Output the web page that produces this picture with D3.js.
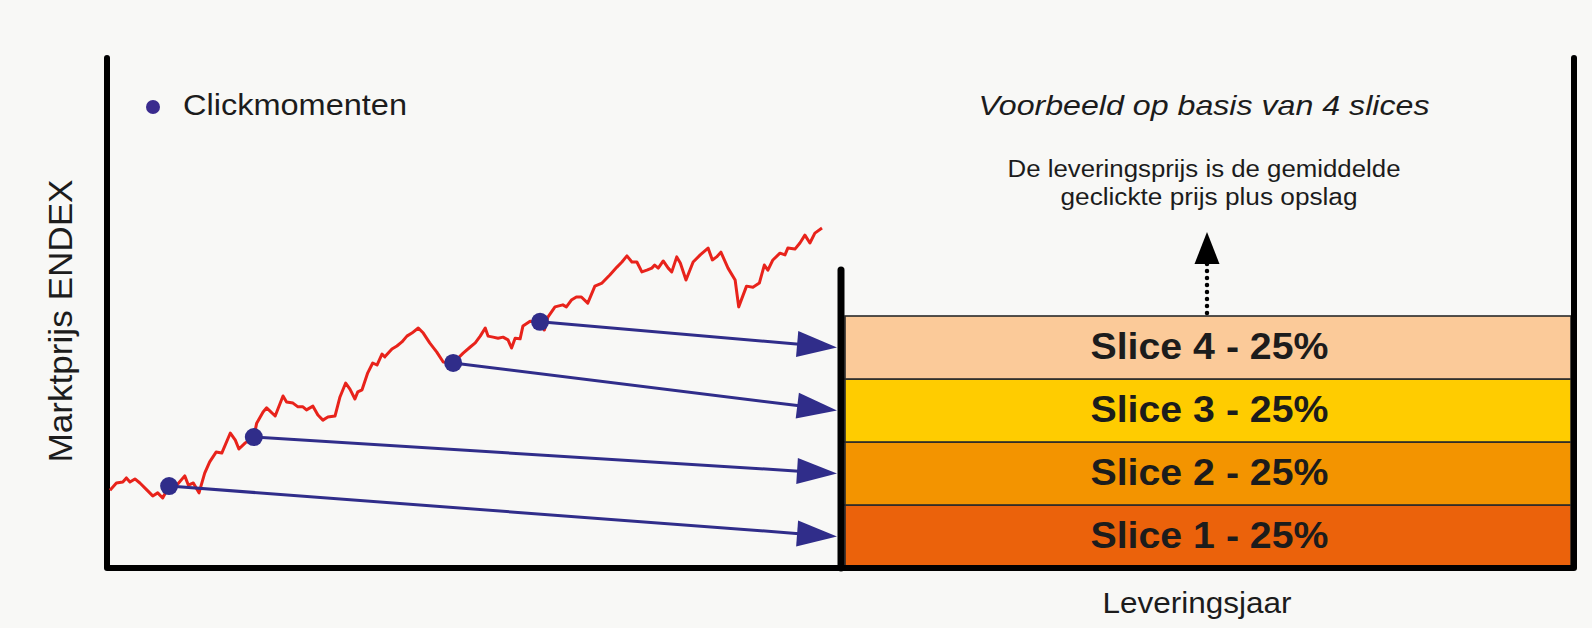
<!DOCTYPE html>
<html>
<head>
<meta charset="utf-8">
<script src="https://cdn.jsdelivr.net/npm/d3@7"></script>
<style>
  body { margin: 0; background: #f8f8f6; }
  svg { display: block; font-family: "Liberation Sans", Arial, sans-serif; }
</style>
</head>
<body>
<svg id="chart"></svg>
<script>
// marktprijs over de tijd (tijd 0-100, prijs-index 0-100)
const tijd = [
  0, 0.9, 1.8, 2.3, 2.8, 3.5, 4.2, 5.2, 6.0, 6.7, 7.4, 8.3, 9.4, 10.5, 11.0, 11.7,
  12.5, 13.3, 14.0, 14.9, 15.7, 16.9, 17.6, 18.1, 19.0, 20.2, 20.6, 21.5, 22.0, 23.2,
  24.3, 24.8, 25.7, 26.4, 27.1, 27.6, 28.5, 29.2, 29.9, 30.6, 31.6, 32.3, 33.1, 33.7,
  34.4, 34.8, 35.4, 36.2, 36.9, 37.5, 38.2, 38.6, 39.6, 40.3, 41.0, 41.7, 42.4, 43.3,
  44.0, 44.9, 45.9, 46.8, 48.2, 49.6, 50.6, 51.3, 52.0, 52.7, 53.1, 53.8, 54.5, 55.2,
  55.9, 56.4, 56.9, 57.6, 58.0, 59.0, 60.4, 61.0, 61.5, 62.5, 63.6, 64.1, 64.8, 65.5,
  66.2, 67.1, 68.1, 69.1, 70.2, 71.2, 71.9, 72.6, 73.3, 74.0, 74.7, 75.4, 76.1, 76.5,
  77.0, 77.7, 78.4, 78.9, 79.6, 80.1, 80.9, 81.9, 82.9, 84.0, 84.6, 85.2, 85.8, 86.8,
  87.8, 88.3, 89.4, 90.3, 91.2, 91.9, 92.4, 93.1, 94.1, 94.8, 95.2, 96.2, 96.9, 97.6,
  98.3, 99.0, 100,
];
const prijs = [
  22.9, 25.0, 25.3, 26.5, 25.3, 26.2, 25.0, 22.9, 21.2, 22.1, 20.6, 24.1, 24.4, 27.1, 24.4, 25.0,
  22.1, 27.9, 31.2, 34.1, 33.8, 39.7, 37.6, 35.0, 36.8, 38.5, 42.6, 45.9, 47.1, 44.7,
  50.6, 48.8, 48.5, 47.4, 47.4, 46.5, 47.6, 45.0, 43.5, 44.4, 44.7, 50.3, 54.4, 52.6,
  49.7, 51.8, 52.4, 57.4, 60.3, 59.7, 62.9, 62.1, 64.4, 65.3, 66.5, 68.2, 69.1, 70.6,
  69.1, 66.2, 63.5, 60.6, 60.3, 63.2, 65.0, 66.2, 68.2, 70.6, 68.2, 67.9, 67.6, 67.9,
  67.1, 64.7, 67.6, 67.4, 71.2, 72.6, 72.4, 70.0, 73.8, 76.8, 77.4, 76.8, 78.8, 79.7,
  79.7, 77.9, 82.9, 83.8, 86.2, 88.5, 90.0, 91.8, 90.0, 90.0, 87.1, 87.6, 88.2, 89.1,
  88.2, 90.3, 88.2, 87.1, 91.5, 89.7, 84.7, 90.0, 92.1, 94.1, 90.6, 91.5, 92.9, 88.2,
  84.7, 76.8, 82.9, 82.6, 83.8, 89.1, 87.6, 90.6, 92.6, 92.1, 94.1, 93.8, 95.6, 97.9,
  95.6, 98.5, 100,
];
// clickmomenten
const clickTijd = [8.3, 20.2, 48.2, 60.4];
const clickPrijs = [24.1, 38.5, 60.3, 72.4];
// slices
const slices = ["Slice 1", "Slice 2", "Slice 3", "Slice 4"];
const sliceAandeel = [25, 25, 25, 25];
const sliceColors = ["#eb620b", "#f39400", "#ffcc00", "#fbca99"];

const config = {
  width: 1592,
  height: 628,
  axisLeft: 107,
  axisRight: 1574,
  axisTop: 58,
  axisBottom: 568,
  splitX: 841,
  splitTop: 270,
  slicesTop: 316,
};
const blue = "#302d8a";
const ink = "#1c1c1c";

const svg = d3.select("#chart")
  .attr("width", config.width)
  .attr("height", config.height);

const xScale = d3.scaleLinear().domain([0, 100]).range([110, 822]);
const yScale = d3.scaleLinear().domain([0, 100]).range([568, 228]);
const sliceScale = d3
  .scaleBand()
  .domain(slices.slice().reverse())
  .range([config.slicesTop, config.axisBottom]);

const priceData = tijd.map((t, i) => ({ t, p: prijs[i] }));
const clicks = clickTijd.map((t, i) => ({ t, p: clickPrijs[i], slice: slices[i] }));
const sliceData = slices.map((s, i) => ({ name: s, share: sliceAandeel[i], color: sliceColors[i] }));

// slices
const sliceG = svg.append("g");
sliceG
  .selectAll("rect")
  .data(sliceData)
  .join("rect")
  .attr("x", config.splitX + 4)
  .attr("y", (d) => sliceScale(d.name))
  .attr("width", config.axisRight - config.splitX - 7)
  .attr("height", sliceScale.bandwidth())
  .attr("fill", (d) => d.color)
  .attr("stroke", "#2a2a2a")
  .attr("stroke-width", 1.6);
sliceG
  .selectAll("text")
  .data(sliceData)
  .join("text")
  .attr("x", (config.splitX + config.axisRight) / 2 + 2)
  .attr("y", (d) => sliceScale(d.name) + sliceScale.bandwidth() / 2 + 11)
  .attr("text-anchor", "middle")
  .attr("font-size", 36)
  .attr("font-weight", "bold")
  .attr("fill", ink)
  .attr("textLength", 238)
  .attr("lengthAdjust", "spacingAndGlyphs")
  .text((d) => `${d.name} - ${d.share}%`);

// frame
const frame = svg.append("g").attr("stroke", "#000").attr("stroke-width", 6).attr("stroke-linecap", "round");
frame.append("line")
  .attr("x1", config.axisLeft).attr("x2", config.axisLeft)
  .attr("y1", config.axisTop).attr("y2", config.axisBottom);
frame.append("line")
  .attr("x1", config.axisRight).attr("x2", config.axisRight)
  .attr("y1", config.axisTop).attr("y2", config.axisBottom);
frame.append("line")
  .attr("x1", config.splitX).attr("x2", config.splitX)
  .attr("y1", config.splitTop).attr("y2", config.axisBottom)
  .attr("stroke-width", 7);
frame.append("line")
  .attr("x1", config.axisLeft).attr("x2", config.axisRight)
  .attr("y1", config.axisBottom).attr("y2", config.axisBottom)
  .attr("stroke-linecap", "butt");

// price line
const line = d3
  .line()
  .x((d) => xScale(d.t))
  .y((d) => yScale(d.p));
svg.append("path")
  .datum(priceData)
  .attr("fill", "none")
  .attr("stroke", "#e8231b")
  .attr("stroke-width", 3)
  .attr("stroke-linejoin", "round")
  .attr("d", line);

// arrows from click moments to slices
const tipX = config.splitX - 4;
const headLen = 40;
const headHalf = 13;
const arrows = svg.append("g");
clicks.forEach((d) => {
  const x0 = xScale(d.t);
  const y0 = yScale(d.p);
  const y1 = sliceScale(d.slice) + sliceScale.bandwidth() / 2;
  const ang = Math.atan2(y1 - y0, tipX - x0);
  const bx = tipX - headLen * Math.cos(ang);
  const by = y1 - headLen * Math.sin(ang);
  arrows.append("line")
    .attr("x1", x0).attr("y1", y0)
    .attr("x2", bx + 2 * Math.cos(ang)).attr("y2", by + 2 * Math.sin(ang))
    .attr("stroke", blue)
    .attr("stroke-width", 3);
  const px = -Math.sin(ang) * headHalf;
  const py = Math.cos(ang) * headHalf;
  arrows.append("path")
    .attr("d", `M${tipX},${y1}L${bx + px},${by + py}L${bx - px},${by - py}Z`)
    .attr("fill", blue);
});

svg.append("g")
  .selectAll("circle")
  .data(clicks)
  .join("circle")
  .attr("cx", (d) => xScale(d.t))
  .attr("cy", (d) => yScale(d.p))
  .attr("r", 9)
  .attr("fill", blue);

// legend
svg.append("circle").attr("cx", 153).attr("cy", 107).attr("r", 7).attr("fill", "#3a2b8e");
svg.append("text")
  .attr("x", 183).attr("y", 115)
  .attr("font-size", 29)
  .attr("fill", ink)
  .attr("textLength", 224)
  .attr("lengthAdjust", "spacingAndGlyphs")
  .text("Clickmomenten");

// annotation
const centerX = 1204;
svg.append("text")
  .attr("x", centerX).attr("y", 115)
  .attr("text-anchor", "middle")
  .attr("font-size", 28)
  .attr("font-style", "italic")
  .attr("fill", ink)
  .attr("textLength", 451)
  .attr("lengthAdjust", "spacingAndGlyphs")
  .text("Voorbeeld op basis van 4 slices");
svg.append("text")
  .attr("x", centerX).attr("y", 177)
  .attr("text-anchor", "middle")
  .attr("font-size", 23)
  .attr("fill", ink)
  .attr("textLength", 393)
  .attr("lengthAdjust", "spacingAndGlyphs")
  .text("De leveringsprijs is de gemiddelde");
svg.append("text")
  .attr("x", centerX + 5).attr("y", 205)
  .attr("text-anchor", "middle")
  .attr("font-size", 23)
  .attr("fill", ink)
  .attr("textLength", 297)
  .attr("lengthAdjust", "spacingAndGlyphs")
  .text("geclickte prijs plus opslag");

// dotted arrow up
svg.append("line")
  .attr("x1", 1207).attr("x2", 1207)
  .attr("y1", config.slicesTop - 3).attr("y2", 262)
  .attr("stroke", "#000")
  .attr("stroke-width", 4.5)
  .attr("stroke-linecap", "round")
  .attr("stroke-dasharray", "0 7");
svg.append("path")
  .attr("d", "M1207,232L1219.5,264L1194.5,264Z")
  .attr("fill", "#000");

// axis titles
svg.append("text")
  .attr("transform", "translate(72,321) rotate(-90)")
  .attr("text-anchor", "middle")
  .attr("font-size", 34)
  .attr("fill", ink)
  .attr("textLength", 283)
  .attr("lengthAdjust", "spacingAndGlyphs")
  .text("Marktprijs ENDEX");
svg.append("text")
  .attr("x", 1197).attr("y", 613)
  .attr("text-anchor", "middle")
  .attr("font-size", 29)
  .attr("fill", ink)
  .attr("textLength", 189)
  .attr("lengthAdjust", "spacingAndGlyphs")
  .text("Leveringsjaar");
</script>
</body>
</html>
